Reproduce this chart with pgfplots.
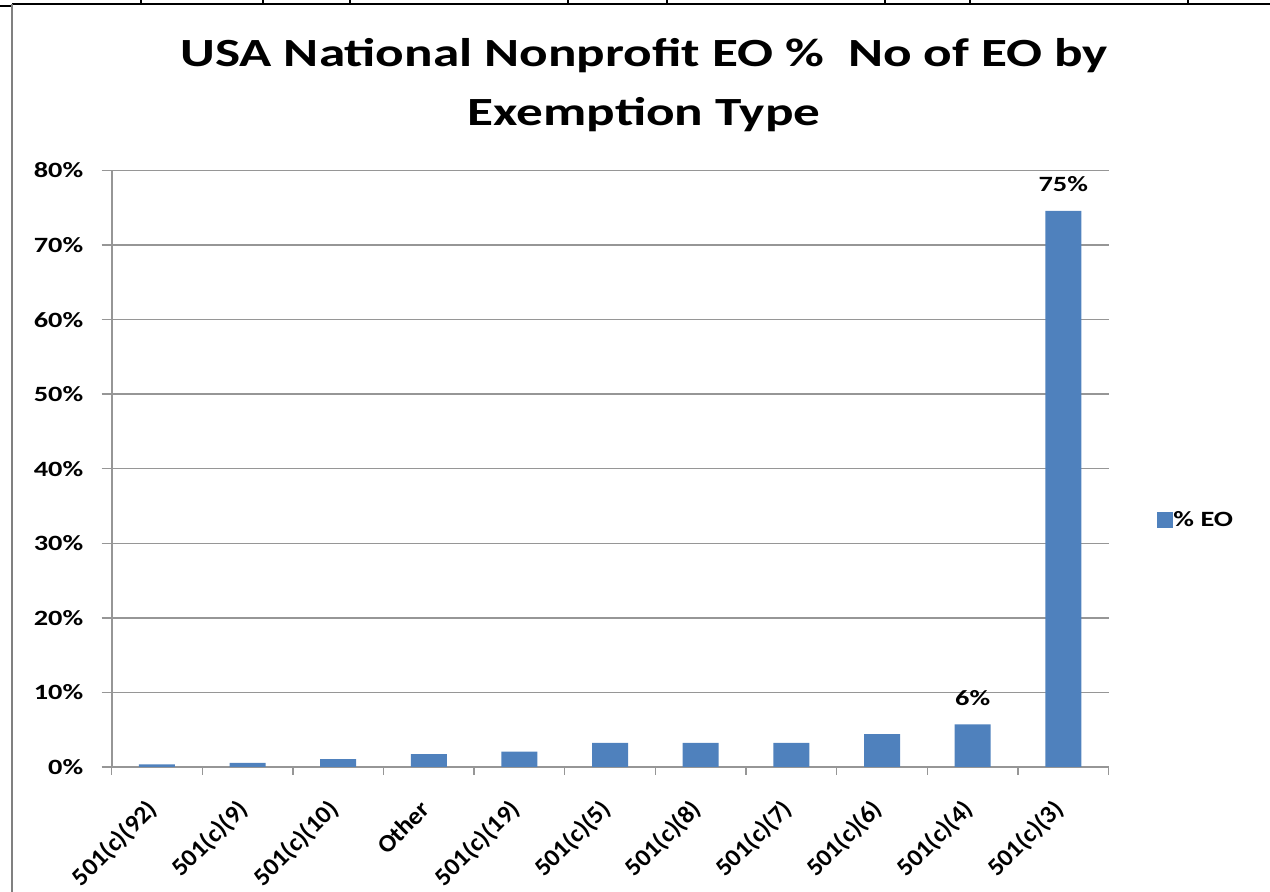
\documentclass[border=0pt]{standalone}
\usepackage{fontspec}
\setmainfont{Carlito}
\usepackage{graphicx}
\usepackage{pgfplots}
\usepackage{pgfplotstable}
\pgfplotsset{compat=1.18}
\definecolor{barblue}{RGB}{79,129,189}
\definecolor{gridgray}{RGB}{150,150,150}
\newcommand{\st}[1]{\scalebox{1.3}[1]{#1}}
\newcommand{\sx}[1]{\scalebox{1.05}[1]{#1}}
\pgfplotstableread{
x y lab
0 0.36 {}
1 0.54 {}
2 1.04 {}
3 1.71 {}
4 2.07 {}
5 3.24 {}
6 3.24 {}
7 3.24 {}
8 4.41 {}
9 5.72 6\%
10 74.6 75\%
}\datatable
\begin{document}
\begin{tikzpicture}
\useasboundingbox (0,0) rectangle (635pt,446pt);
% sheet border lines
\draw[line width=1pt, black] (6pt,444pt) -- (635pt,444pt);
\draw[line width=1pt, black] (0pt,443pt) -- (6pt,443pt);
\foreach \xx in {141,263,350,568,667,885,970,1188} {
  \draw[line width=0.6pt, black] (\xx*0.5pt,444pt) -- (\xx*0.5pt,446pt);
}
\draw[line width=1.1pt, gray] (6pt,0pt) -- (6pt,444pt);
% title
\node[anchor=base, inner sep=0pt] at (322pt,412.5pt) {\fontsize{20}{24}\selectfont\bfseries\scalebox{1.33}[1]{USA National Nonprofit EO \%\ \ No of EO by}};
\node[anchor=base, inner sep=0pt] at (322pt,383pt) {\fontsize{20}{24}\selectfont\bfseries\scalebox{1.33}[1]{Exemption Type}};
\begin{axis}[
  at={(55.8pt,62.5pt)}, anchor=south west,
  scale only axis, width=498.5pt, height=298.25pt,
  ybar, bar width=18pt,
  xmin=-0.5, xmax=10.5, ymin=0, ymax=80,
  ytick={0,10,...,80},
  yticklabel={\st{\pgfmathprintnumber{\tick}\%}},
  xtick={0,...,10},
  xticklabels={{\sx{501(c)(92)}},{\sx{501(c)(9)}},{\sx{501(c)(10)}},{\sx{Other}},{\sx{501(c)(19)}},{\sx{501(c)(5)}},{\sx{501(c)(8)}},{\sx{501(c)(7)}},{\sx{501(c)(6)}},{\sx{501(c)(4)}},{\sx{501(c)(3)}}},
  minor xtick={-0.5,0.5,...,10.5},
  axis x line*=bottom, axis y line*=left,
  axis line style={gridgray, line width=0.9pt},
  ymajorgrids, grid style={gridgray, line width=0.7pt},
  tick align=outside,
  major tick length=5pt, minor tick length=4pt,
  major x tick style={draw=none},
  tick style={gridgray, line width=0.7pt},
  tick label style={font=\fontsize{10.9}{13}\selectfont\bfseries},
  yticklabel style={anchor=east, inner sep=0pt, xshift=-9pt},
  xticklabel style={rotate=45, anchor=east, inner sep=0pt, xshift=-11.1pt, yshift=-8.8pt, font=\fontsize{12.3}{14}\selectfont\bfseries},
  /pgf/number format/assume math mode=true,
  clip=false,
  nodes near coords={\st{\pgfplotspointmeta}},
  point meta=explicit symbolic,
  nodes near coords style={anchor=base, yshift=9.5pt, inner sep=0pt, font=\fontsize{10.9}{13}\selectfont\bfseries},
  legend style={at={(1.0486,0.414)}, anchor=west, draw=none, fill=none, inner sep=0pt,
    font=\fontsize{10.9}{13}\selectfont\bfseries,
    nodes={inner sep=0pt, xshift=1.5pt}},
  legend image code/.code={\fill[barblue] (0pt,-4pt) rectangle (8pt,4pt);},
]
\addplot[fill=barblue, draw=none] table[x=x, y=y, meta=lab] {\datatable};
\addlegendentry{\st{\% EO}}
\end{axis}
\end{tikzpicture}
\end{document}
